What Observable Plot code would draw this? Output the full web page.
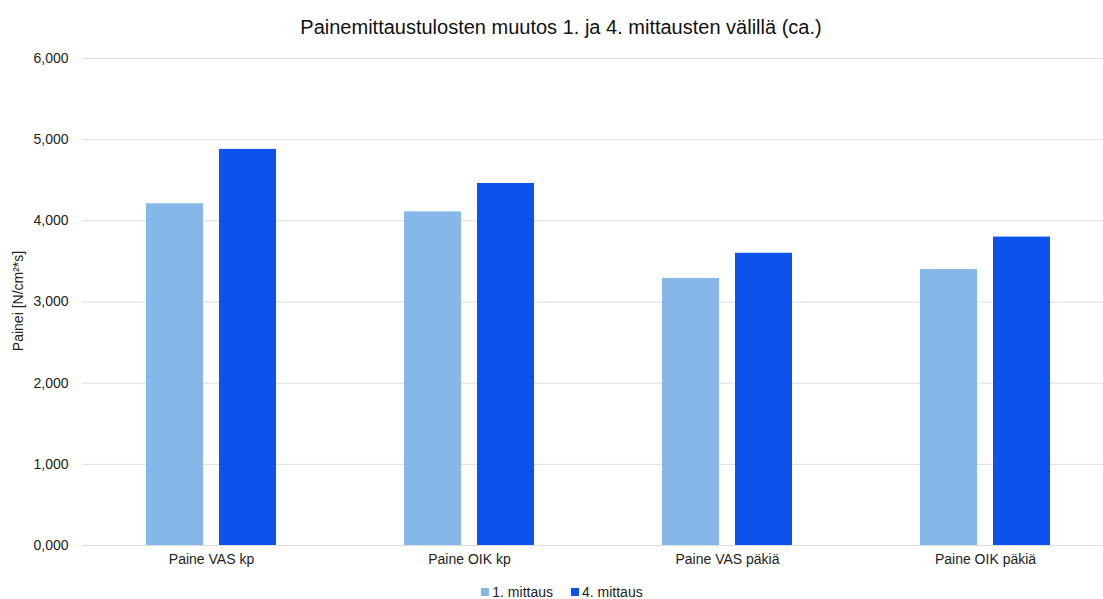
<!DOCTYPE html>
<html>
<head>
<meta charset="utf-8">
<script src="https://cdn.jsdelivr.net/npm/d3@7"></script>
<script src="https://cdn.jsdelivr.net/npm/@observablehq/plot@0.6"></script>
<style>
  html, body { margin: 0; padding: 0; background: #fff; overflow: hidden; width: 1103px; height: 599px; }
  body { position: relative; font-family: "Liberation Sans", Arial, sans-serif; color: #222; }
  #title { position: absolute; top: 14px; left: 0; width: 1122px; text-align: center; font-size: 20px; line-height: 26px; color: #111; }
  #chart { position: absolute; top: 0; left: 0; width: 1115px; }
  #chart svg { max-width: none !important; width: 1115px !important; height: 580px !important; }
  #ylabel { position: absolute; left: 18px; top: 301px; transform: translate(-50%, -50%) rotate(-90deg); white-space: nowrap; font-size: 14px; line-height: 16px; color: #222; }
  #legend { position: absolute; top: 584px; left: 0; width: 1124px; display: flex; justify-content: center; gap: 18px; font-size: 14px; line-height: 16px; }
  .item { display: flex; align-items: center; gap: 3px; }
  .sw { width: 8px; height: 8px; display: inline-block; }
</style>
</head>
<body>
<div id="chart"></div>
<div id="title">Painemittaustulosten muutos 1. ja 4. mittausten välillä (ca.)</div>
<div id="ylabel"></div>
<div id="legend"></div>
<script>
const categories = ["Paine VAS kp", "Paine OIK kp", "Paine VAS päkiä", "Paine OIK päkiä"];
const series = ["1. mittaus", "4. mittaus"];
const values1 = [4.21, 4.11, 3.29, 3.40];
const values4 = [4.88, 4.46, 3.60, 3.80];
const yTicks = [0, 1, 2, 3, 4, 5, 6];
const colors = ["#85b8e8", "#0b53ec"];
const yLabel = "Painei [N/cm²*s]";

const data = [];
categories.forEach((c, i) => {
  data.push({category: c, series: series[0], value: values1[i]});
  data.push({category: c, series: series[1], value: values4[i]});
});

const fmt = d => d.toFixed(3).replace(".", ",");

const chart = Plot.plot({
  width: 1115,
  height: 580,
  marginTop: 58,
  marginBottom: 35,
  marginLeft: 81,
  marginRight: 0,
  facet: {marginTop: 0, marginBottom: 0, marginLeft: 0, marginRight: 0},
  style: {fontFamily: "'Liberation Sans', Arial, sans-serif", fontSize: "14px", color: "#222", background: "transparent"},
  fx: {domain: categories, padding: 0, label: null, axis: null},
  x: {domain: series, paddingInner: 0.216, paddingOuter: 0.855, axis: null},
  y: {domain: [0, 6], axis: null},
  color: {domain: series, range: colors},
  marks: [
    Plot.gridY(yTicks, {stroke: "#dcdcdc", strokeOpacity: 1, strokeWidth: 1}),
    Plot.barY(data, {fx: "category", x: "series", y: "value", fill: "series"}),
    Plot.axisFx({anchor: "bottom", tickSize: 0, tickPadding: 9, label: null, fontSize: 14}),
    Plot.axisY(yTicks, {anchor: "left", tickSize: 0, tickPadding: 14, tickFormat: fmt, fontSize: 14, label: null})
  ]
});
document.getElementById("chart").appendChild(chart);
document.getElementById("ylabel").textContent = yLabel;

const legend = document.getElementById("legend");
series.forEach((s, i) => {
  const item = document.createElement("div");
  item.className = "item";
  const sw = document.createElement("span");
  sw.className = "sw";
  sw.style.background = colors[i];
  const t = document.createElement("span");
  t.textContent = s;
  item.appendChild(sw);
  item.appendChild(t);
  legend.appendChild(item);
});
</script>
</body>
</html>
